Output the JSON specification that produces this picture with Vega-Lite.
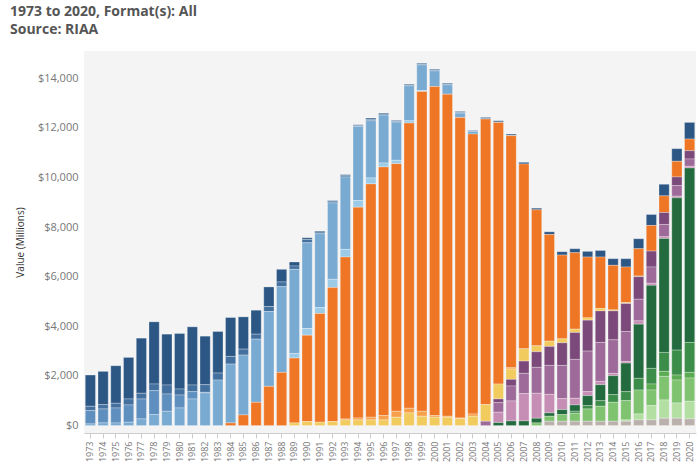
{
  "$schema": "https://vega.github.io/schema/vega-lite/v6.json",
  "width": 612,
  "height": 382,
  "padding": {"left": 10, "top": 5, "right": 3, "bottom": 2},
  "title": {"text": "1973 to 2020, Format(s): All", "subtitle": "Source: RIAA", "anchor": "start", "frame": "group", "offset": 14, "dx": -74,
    "font": "Open Sans", "fontSize": 14, "fontWeight": "bold", "color": "#555555",
    "subtitleFont": "Open Sans", "subtitleFontSize": 14, "subtitleFontWeight": "bold", "subtitleColor": "#555555", "subtitlePadding": 4},
  "config": {"view": {"fill": "#f4f4f4", "stroke": null}, "axis": {"labelFont": "Open Sans", "titleFont": "Open Sans", "labelColor": "#777777", "titleColor": "#333333"}},
  "data": {"values": [
    {"y":1973,"f":"LP/EP","v":1260},{"y":1973,"f":"Vinyl Single","v":174},{"y":1973,"f":"8 - Track","v":536},{"y":1973,"f":"Cassette","v":67},
    {"y":1974,"f":"LP/EP","v":1340},{"y":1974,"f":"Vinyl Single","v":174},{"y":1974,"f":"8 - Track","v":563},{"y":1974,"f":"Cassette","v":107},
    {"y":1975,"f":"LP/EP","v":1514},{"y":1975,"f":"Vinyl Single","v":188},{"y":1975,"f":"8 - Track","v":603},{"y":1975,"f":"Cassette","v":107},
    {"y":1976,"f":"LP/EP","v":1675},{"y":1976,"f":"Vinyl Single","v":241},{"y":1976,"f":"8 - Track","v":697},{"y":1976,"f":"Cassette","v":134},
    {"y":1977,"f":"LP/EP","v":2224},{"y":1977,"f":"Vinyl Single","v":228},{"y":1977,"f":"8 - Track","v":804},{"y":1977,"f":"Cassette","v":268},
    {"y":1978,"f":"LP/EP","v":2506},{"y":1978,"f":"Vinyl Single","v":268},{"y":1978,"f":"8 - Track","v":965},{"y":1978,"f":"Cassette","v":442},
    {"y":1979,"f":"LP/EP","v":2050},{"y":1979,"f":"Vinyl Single","v":362},{"y":1979,"f":"8 - Track","v":697},{"y":1979,"f":"Cassette","v":576},
    {"y":1980,"f":"LP/EP","v":2238},{"y":1980,"f":"Vinyl Single","v":241},{"y":1980,"f":"8 - Track","v":523},{"y":1980,"f":"Cassette","v":710},
    {"y":1981,"f":"LP/EP","v":2345},{"y":1981,"f":"Vinyl Single","v":268},{"y":1981,"f":"8 - Track","v":295},{"y":1981,"f":"Cassette","v":1072},
    {"y":1982,"f":"LP/EP","v":1956},{"y":1982,"f":"Vinyl Single","v":308},{"y":1982,"f":"8 - Track","v":27},{"y":1982,"f":"Cassette","v":1313},
    {"y":1983,"f":"LP/EP","v":1675},{"y":1983,"f":"Vinyl Single","v":281},{"y":1983,"f":"Cassette","v":1836},
    {"y":1984,"f":"LP/EP","v":1568},{"y":1984,"f":"Vinyl Single","v":308},{"y":1984,"f":"Cassette","v":2372},{"y":1984,"f":"CD","v":107},
    {"y":1985,"f":"LP/EP","v":1300},{"y":1985,"f":"Vinyl Single","v":241},{"y":1985,"f":"Cassette","v":2412},{"y":1985,"f":"CD","v":429},
    {"y":1986,"f":"LP/EP","v":965},{"y":1986,"f":"Vinyl Single","v":201},{"y":1986,"f":"Cassette","v":2546},{"y":1986,"f":"CD","v":938},
    {"y":1987,"f":"LP/EP","v":791},{"y":1987,"f":"Vinyl Single","v":201},{"y":1987,"f":"Cassette","v":3015},{"y":1987,"f":"CD","v":1581},
    {"y":1988,"f":"LP/EP","v":509},{"y":1988,"f":"Vinyl Single","v":188},{"y":1988,"f":"Cassette","v":3457},{"y":1988,"f":"CD","v":2144},
    {"y":1989,"f":"LP/EP","v":161},{"y":1989,"f":"Vinyl Single","v":134},{"y":1989,"f":"Cassette","v":3390},{"y":1989,"f":"Cassette Single","v":188},{"y":1989,"f":"CD","v":2613},{"y":1989,"f":"Music Video","v":107},
    {"y":1990,"f":"LP/EP","v":67},{"y":1990,"f":"Vinyl Single","v":134},{"y":1990,"f":"Cassette","v":3457},{"y":1990,"f":"Cassette Single","v":268},{"y":1990,"f":"CD","v":3484},{"y":1990,"f":"Music Video","v":161},
    {"y":1991,"f":"LP/EP","v":40},{"y":1991,"f":"Vinyl Single","v":67},{"y":1991,"f":"Cassette","v":2975},{"y":1991,"f":"Cassette Single","v":241},{"y":1991,"f":"CD","v":4382},{"y":1991,"f":"Music Video","v":134},
    {"y":1992,"f":"LP/EP","v":27},{"y":1992,"f":"Vinyl Single","v":67},{"y":1992,"f":"Cassette","v":3082},{"y":1992,"f":"Cassette Single","v":335},{"y":1992,"f":"CD","v":5400},{"y":1992,"f":"Music Video","v":161},
    {"y":1993,"f":"LP/EP","v":27},{"y":1993,"f":"Vinyl Single","v":67},{"y":1993,"f":"Cassette","v":2921},{"y":1993,"f":"Cassette Single","v":308},{"y":1993,"f":"CD","v":6526},{"y":1993,"f":"CD Single","v":40},{"y":1993,"f":"Music Video","v":228},
    {"y":1994,"f":"LP/EP","v":27},{"y":1994,"f":"Vinyl Single","v":40},{"y":1994,"f":"Cassette","v":2988},{"y":1994,"f":"Cassette Single","v":268},{"y":1994,"f":"CD","v":8496},{"y":1994,"f":"CD Single","v":80},{"y":1994,"f":"Music Video","v":228},
    {"y":1995,"f":"LP/EP","v":54},{"y":1995,"f":"Vinyl Single","v":54},{"y":1995,"f":"Cassette","v":2305},{"y":1995,"f":"Cassette Single","v":241},{"y":1995,"f":"CD","v":9407},{"y":1995,"f":"CD Single","v":107},{"y":1995,"f":"Music Video","v":228},
    {"y":1996,"f":"LP/EP","v":40},{"y":1996,"f":"Vinyl Single","v":40},{"y":1996,"f":"Cassette","v":1930},{"y":1996,"f":"Cassette Single","v":161},{"y":1996,"f":"CD","v":10023},{"y":1996,"f":"CD Single","v":174},{"y":1996,"f":"Music Video","v":228},
    {"y":1997,"f":"LP/EP","v":40},{"y":1997,"f":"Vinyl Single","v":27},{"y":1997,"f":"Cassette","v":1541},{"y":1997,"f":"Cassette Single","v":134},{"y":1997,"f":"CD","v":9983},{"y":1997,"f":"CD Single","v":241},{"y":1997,"f":"Music Video","v":335},
    {"y":1998,"f":"LP/EP","v":40},{"y":1998,"f":"Vinyl Single","v":27},{"y":1998,"f":"Cassette","v":1407},{"y":1998,"f":"Cassette Single","v":94},{"y":1998,"f":"CD","v":11497},{"y":1998,"f":"CD Single","v":188},{"y":1998,"f":"Music Video","v":509},
    {"y":1999,"f":"LP/EP","v":40},{"y":1999,"f":"Vinyl Single","v":27},{"y":1999,"f":"Cassette","v":1032},{"y":1999,"f":"Cassette Single","v":40},{"y":1999,"f":"CD","v":12891},{"y":1999,"f":"CD Single","v":201},{"y":1999,"f":"Music Video","v":375},
    {"y":2000,"f":"LP/EP","v":40},{"y":2000,"f":"Vinyl Single","v":27},{"y":2000,"f":"Cassette","v":630},{"y":2000,"f":"CD","v":13266},{"y":2000,"f":"CD Single","v":67},{"y":2000,"f":"Music Video","v":335},
    {"y":2001,"f":"LP/EP","v":40},{"y":2001,"f":"Vinyl Single","v":27},{"y":2001,"f":"Cassette","v":375},{"y":2001,"f":"CD","v":12985},{"y":2001,"f":"CD Single","v":40},{"y":2001,"f":"Music Video","v":335},
    {"y":2002,"f":"LP/EP","v":40},{"y":2002,"f":"Vinyl Single","v":27},{"y":2002,"f":"Cassette","v":174},{"y":2002,"f":"CD","v":12114},{"y":2002,"f":"CD Single","v":27},{"y":2002,"f":"Music Video","v":281},
    {"y":2003,"f":"LP/EP","v":27},{"y":2003,"f":"Vinyl Single","v":13},{"y":2003,"f":"Cassette","v":107},{"y":2003,"f":"CD","v":11283},{"y":2003,"f":"CD Single","v":94},{"y":2003,"f":"Music Video","v":375},
    {"y":2004,"f":"LP/EP","v":54},{"y":2004,"f":"Vinyl Single","v":13},{"y":2004,"f":"CD","v":11511},{"y":2004,"f":"Music Video","v":670},{"y":2004,"f":"Download Single","v":174},
    {"y":2005,"f":"LP/EP","v":54},{"y":2005,"f":"Vinyl Single","v":13},{"y":2005,"f":"CD","v":10546},{"y":2005,"f":"Music Video","v":603},{"y":2005,"f":"Download Album","v":147},{"y":2005,"f":"Download Single","v":389},{"y":2005,"f":"Ringtones & Ringbacks","v":415},{"y":2005,"f":"Paid Subscription","v":121},
    {"y":2006,"f":"LP/EP","v":54},{"y":2006,"f":"Vinyl Single","v":13},{"y":2006,"f":"CD","v":9353},{"y":2006,"f":"CD Single","v":54},{"y":2006,"f":"Music Video","v":415},{"y":2006,"f":"Download Album","v":268},{"y":2006,"f":"Download Single","v":603},{"y":2006,"f":"Ringtones & Ringbacks","v":804},{"y":2006,"f":"Paid Subscription","v":188},
    {"y":2007,"f":"LP/EP","v":67},{"y":2007,"f":"CD","v":7450},{"y":2007,"f":"Music Video","v":496},{"y":2007,"f":"Download Album","v":496},{"y":2007,"f":"Download Single","v":817},{"y":2007,"f":"Ringtones & Ringbacks","v":1099},{"y":2007,"f":"Paid Subscription","v":188},
    {"y":2008,"f":"LP/EP","v":67},{"y":2008,"f":"CD","v":5481},{"y":2008,"f":"Music Video","v":241},{"y":2008,"f":"Download Album","v":630},{"y":2008,"f":"Download Single","v":1045},{"y":2008,"f":"Ringtones & Ringbacks","v":1005},{"y":2008,"f":"Paid Subscription","v":188},{"y":2008,"f":"SoundExchange Distributions","v":107},
    {"y":2009,"f":"LP/EP","v":107},{"y":2009,"f":"CD","v":4301},{"y":2009,"f":"Music Video","v":214},{"y":2009,"f":"Download Album","v":764},{"y":2009,"f":"Download Single","v":1166},{"y":2009,"f":"Ringtones & Ringbacks","v":750},{"y":2009,"f":"Paid Subscription","v":134},{"y":2009,"f":"SoundExchange Distributions","v":201},{"y":2009,"f":"Synchronization","v":174},
    {"y":2010,"f":"LP/EP","v":134},{"y":2010,"f":"CD","v":3377},{"y":2010,"f":"Music Video","v":161},{"y":2010,"f":"Download Album","v":911},{"y":2010,"f":"Download Single","v":1340},{"y":2010,"f":"Ringtones & Ringbacks","v":442},{"y":2010,"f":"Paid Subscription","v":201},{"y":2010,"f":"SoundExchange Distributions","v":268},{"y":2010,"f":"Synchronization","v":174},
    {"y":2011,"f":"LP/EP","v":161},{"y":2011,"f":"CD","v":3082},{"y":2011,"f":"Music Video","v":134},{"y":2011,"f":"Download Album","v":1085},{"y":2011,"f":"Download Single","v":1568},{"y":2011,"f":"Ringtones & Ringbacks","v":268},{"y":2011,"f":"Paid Subscription","v":255},{"y":2011,"f":"On-Demand Streaming (Ad-Supported)","v":80},{"y":2011,"f":"SoundExchange Distributions","v":322},{"y":2011,"f":"Synchronization","v":174},
    {"y":2012,"f":"LP/EP","v":228},{"y":2012,"f":"CD","v":2452},{"y":2012,"f":"Music Video","v":94},{"y":2012,"f":"Download Album","v":1246},{"y":2012,"f":"Download Single","v":1635},{"y":2012,"f":"Ringtones & Ringbacks","v":161},{"y":2012,"f":"Paid Subscription","v":402},{"y":2012,"f":"On-Demand Streaming (Ad-Supported)","v":134},{"y":2012,"f":"SoundExchange Distributions","v":496},{"y":2012,"f":"Synchronization","v":174},
    {"y":2013,"f":"LP/EP","v":268},{"y":2013,"f":"CD","v":2077},{"y":2013,"f":"Music Video","v":94},{"y":2013,"f":"Download Album","v":1273},{"y":2013,"f":"Download Single","v":1568},{"y":2013,"f":"Ringtones & Ringbacks","v":134},{"y":2013,"f":"Paid Subscription","v":643},{"y":2013,"f":"On-Demand Streaming (Ad-Supported)","v":228},{"y":2013,"f":"SoundExchange Distributions","v":603},{"y":2013,"f":"Synchronization","v":174},
    {"y":2014,"f":"LP/EP","v":268},{"y":2014,"f":"CD","v":1796},{"y":2014,"f":"Music Video","v":40},{"y":2014,"f":"Download Album","v":1166},{"y":2014,"f":"Download Single","v":1353},{"y":2014,"f":"Ringtones & Ringbacks","v":94},{"y":2014,"f":"Paid Subscription","v":764},{"y":2014,"f":"On-Demand Streaming (Ad-Supported)","v":308},{"y":2014,"f":"SoundExchange Distributions","v":764},{"y":2014,"f":"Synchronization","v":174},
    {"y":2015,"f":"LP/EP","v":335},{"y":2015,"f":"CD","v":1434},{"y":2015,"f":"Music Video","v":40},{"y":2015,"f":"Download Album","v":1126},{"y":2015,"f":"Download Single","v":1206},{"y":2015,"f":"Ringtones & Ringbacks","v":67},{"y":2015,"f":"Paid Subscription","v":1152},{"y":2015,"f":"On-Demand Streaming (Ad-Supported)","v":362},{"y":2015,"f":"SoundExchange Distributions","v":777},{"y":2015,"f":"Other Ad-Supported Streaming","v":54},{"y":2015,"f":"Synchronization","v":174},
    {"y":2016,"f":"LP/EP","v":402},{"y":2016,"f":"CD","v":1099},{"y":2016,"f":"Music Video","v":27},{"y":2016,"f":"Download Album","v":911},{"y":2016,"f":"Download Single","v":871},{"y":2016,"f":"Ringtones & Ringbacks","v":134},{"y":2016,"f":"Paid Subscription","v":2184},{"y":2016,"f":"On-Demand Streaming (Ad-Supported)","v":469},{"y":2016,"f":"SoundExchange Distributions","v":965},{"y":2016,"f":"Other Ad-Supported Streaming","v":241},{"y":2016,"f":"Synchronization","v":228},
    {"y":2017,"f":"LP/EP","v":442},{"y":2017,"f":"CD","v":1032},{"y":2017,"f":"Download Album","v":643},{"y":2017,"f":"Download Single","v":657},{"y":2017,"f":"Ringtones & Ringbacks","v":80},{"y":2017,"f":"Paid Subscription","v":3350},{"y":2017,"f":"On-Demand Streaming (Ad-Supported)","v":630},{"y":2017,"f":"Limited Tier Paid Subscription","v":241},{"y":2017,"f":"SoundExchange Distributions","v":630},{"y":2017,"f":"Other Ad-Supported Streaming","v":576},{"y":2017,"f":"Synchronization","v":228},
    {"y":2018,"f":"LP/EP","v":469},{"y":2018,"f":"CD","v":670},{"y":2018,"f":"Download Album","v":482},{"y":2018,"f":"Download Single","v":496},{"y":2018,"f":"Ringtones & Ringbacks","v":67},{"y":2018,"f":"Paid Subscription","v":4596},{"y":2018,"f":"On-Demand Streaming (Ad-Supported)","v":764},{"y":2018,"f":"Limited Tier Paid Subscription","v":201},{"y":2018,"f":"SoundExchange Distributions","v":951},{"y":2018,"f":"Other Ad-Supported Streaming","v":737},{"y":2018,"f":"Synchronization","v":295},
    {"y":2019,"f":"LP/EP","v":509},{"y":2019,"f":"CD","v":630},{"y":2019,"f":"Download Album","v":348},{"y":2019,"f":"Download Single","v":429},{"y":2019,"f":"Ringtones & Ringbacks","v":67},{"y":2019,"f":"Paid Subscription","v":6137},{"y":2019,"f":"On-Demand Streaming (Ad-Supported)","v":1005},{"y":2019,"f":"Limited Tier Paid Subscription","v":201},{"y":2019,"f":"SoundExchange Distributions","v":925},{"y":2019,"f":"Other Ad-Supported Streaming","v":616},{"y":2019,"f":"Synchronization","v":295},
    {"y":2020,"f":"LP/EP","v":670},{"y":2020,"f":"CD","v":469},{"y":2020,"f":"Download Album","v":335},{"y":2020,"f":"Download Single","v":295},{"y":2020,"f":"Ringtones & Ringbacks","v":67},{"y":2020,"f":"Paid Subscription","v":7035},{"y":2020,"f":"On-Demand Streaming (Ad-Supported)","v":1206},{"y":2020,"f":"Limited Tier Paid Subscription","v":228},{"y":2020,"f":"SoundExchange Distributions","v":938},{"y":2020,"f":"Other Ad-Supported Streaming","v":710},{"y":2020,"f":"Synchronization","v":268}
  ]},
  "transform": [
    {"calculate": "indexof(['Synchronization','Other Ad-Supported Streaming','SoundExchange Distributions','Limited Tier Paid Subscription','On-Demand Streaming (Ad-Supported)','Paid Subscription','Ringtones & Ringbacks','Download Single','Download Album','Music Video','CD Single','CD','Cassette Single','Cassette','8 - Track','Vinyl Single','LP/EP'], datum.f)", "as": "k"}
  ],
  "mark": {"type": "bar", "stroke": "#ffffff", "strokeWidth": 0.4, "strokeOpacity": 0.7},
  "encoding": {
    "x": {"field": "y", "type": "ordinal", "title": null, "scale": {"paddingInner": 0.2, "paddingOuter": 0.1},
      "axis": {"labelAngle": 270, "labelFontSize": 9, "ticks": true, "tickColor": "#cccccc", "domainColor": "#cccccc", "labelPadding": 3}},
    "y": {"field": "v", "type": "quantitative", "title": "Value (Millions)",
      "scale": {"domain": [-300, 15100], "nice": false},
      "axis": {"values": [0, 2000, 4000, 6000, 8000, 10000, 12000, 14000], "format": "$,.0f", "grid": false, "domain": false, "ticks": false, "labelFontSize": 11, "titleFontSize": 10, "titleFontWeight": "normal", "labelPadding": 6, "titlePadding": 12}},
    "order": {"field": "k", "type": "quantitative", "sort": "ascending"},
    "color": {"field": "f", "type": "nominal", "legend": null,
      "scale": {"domain": ["Synchronization","Other Ad-Supported Streaming","SoundExchange Distributions","Limited Tier Paid Subscription","On-Demand Streaming (Ad-Supported)","Paid Subscription","Ringtones & Ringbacks","Download Single","Download Album","Music Video","CD Single","CD","Cassette Single","Cassette","8 - Track","Vinyl Single","LP/EP"],
        "range": ["#bab0ac","#b3dfa2","#7fc26f","#5bab52","#3c8d4a","#236b3e","#c68db5","#9d6a99","#7c4a7a","#f2cb5f","#f7a04a","#ee7624","#9ccbe8","#79aad2","#5f8fbf","#44709f","#2c5785"]}},
    "tooltip": [{"field": "y", "title": "Year"}, {"field": "f", "title": "Format"}, {"field": "v", "title": "Value", "format": "$,.0f"}]
  }
}
